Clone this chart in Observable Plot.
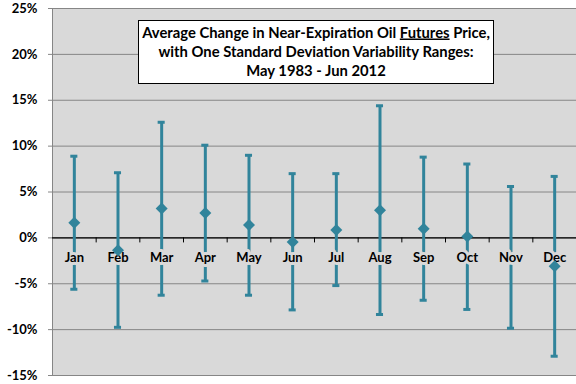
<!DOCTYPE html>
<html><head><meta charset="utf-8">
<script src="https://cdn.jsdelivr.net/npm/d3@7"></script>
<script src="https://cdn.jsdelivr.net/npm/@observablehq/plot@0.6"></script>
<style>body{margin:0;background:#fff;} svg{display:block;}</style>
</head><body><div id="chart"></div>
<script>
const months = ["Jan","Feb","Mar","Apr","May","Jun","Jul","Aug","Sep","Oct","Nov","Dec"];
// mean monthly change (%) — Nov marker is hidden behind its label in the reference
const meanChange = [1.65,-1.35,3.2,2.7,1.4,-0.45,0.85,3.0,1.0,0.15,null,-3.1];
const rangeLow = [-5.6,-9.75,-6.25,-4.7,-6.25,-7.85,-5.2,-8.35,-6.8,-7.8,-9.85,-12.9];
const rangeHigh = [8.9,7.1,12.6,10.1,9.0,7.0,7.0,14.4,8.8,8.05,5.6,6.7];
const yTicks = [-15,-10,-5,0,5,10,15,20,25];
const titleLine1 = ["Average Change in Near-Expiration Oil ", "Futures", " Price,"];
const titleLine2 = "with One Standard Deviation Variability Ranges:";
const titleLine3 = "May 1983 - Jun 2012";

const data = months.map((m,i)=>({month:m, mean:meanChange[i], lo:rangeLow[i], hi:rangeHigh[i]}));
const teal = "#31849b";
const bg = "#d9d9d9";
const grid = "#868686";
const font = "Lato, 'Open Sans', sans-serif";

const plot = Plot.plot({
  width:576, height:384,
  marginLeft:52, marginRight:0, marginTop:8, marginBottom:9,
  style:{fontFamily:font, background:"#fff"},
  x:{domain:months, padding:0, round:false, axis:null},
  y:{domain:[-15,25], ticks:yTicks, axis:null},
  marks:[
    Plot.frame({fill:bg, stroke:grid}),
    Plot.gridY(yTicks, {stroke:grid, strokeOpacity:1, strokeWidth:1}),
    Plot.axisY(yTicks, {tickSize:4, tickPadding:11, stroke:grid, tickFormat:d=>d+"%", fontWeight:"bold", fontSize:13, fill:"#000"}),
    Plot.ruleY([0], {stroke:"#000", strokeWidth:1.3}),
    Plot.ruleX(months.slice(1), {x:d=>d, dx:-524/24, y1:0, y2:-0.55, stroke:"#000"}),
    Plot.ruleX(data, {x:"month", y1:"lo", y2:"hi", stroke:teal, strokeWidth:3}),
    Plot.tickY(data, {x:"month", y:"hi", stroke:teal, strokeWidth:3, insetLeft:18.3, insetRight:18.3}),
    Plot.tickY(data, {x:"month", y:"lo", stroke:teal, strokeWidth:3, insetLeft:18.3, insetRight:18.3}),
    Plot.text(months, {x:d=>d, y:-2.15, text:d=>d, fontWeight:"bold", fontSize:13, fill:"#000", stroke:bg, strokeWidth:6, paintOrder:"stroke"}),
    Plot.dot(data.filter(d=>d.mean!=null), {x:"month", y:"mean", symbol:"diamond2", r:5.4, fill:teal, stroke:"none"})
  ]
});
document.getElementById("chart").appendChild(plot);

// title annotation box
const svg = d3.select(plot);
const g = svg.append("g").attr("font-family",font).attr("font-weight","bold").attr("font-size",14.8).attr("fill","#000").attr("text-anchor","middle");
g.append("rect").attr("x",138.5).attr("y",20.5).attr("width",355).attr("height",63)
  .attr("fill","#fff").attr("stroke","#000").attr("stroke-width",1);
const t1 = g.append("text").attr("x",316).attr("y",37.5);
t1.append("tspan").text(titleLine1[0]);
t1.append("tspan").attr("text-decoration","underline").text(titleLine1[1]);
t1.append("tspan").text(titleLine1[2]);
g.append("text").attr("x",316).attr("y",57).text(titleLine2);
g.append("text").attr("x",316).attr("y",76).text(titleLine3);
</script></body></html>
